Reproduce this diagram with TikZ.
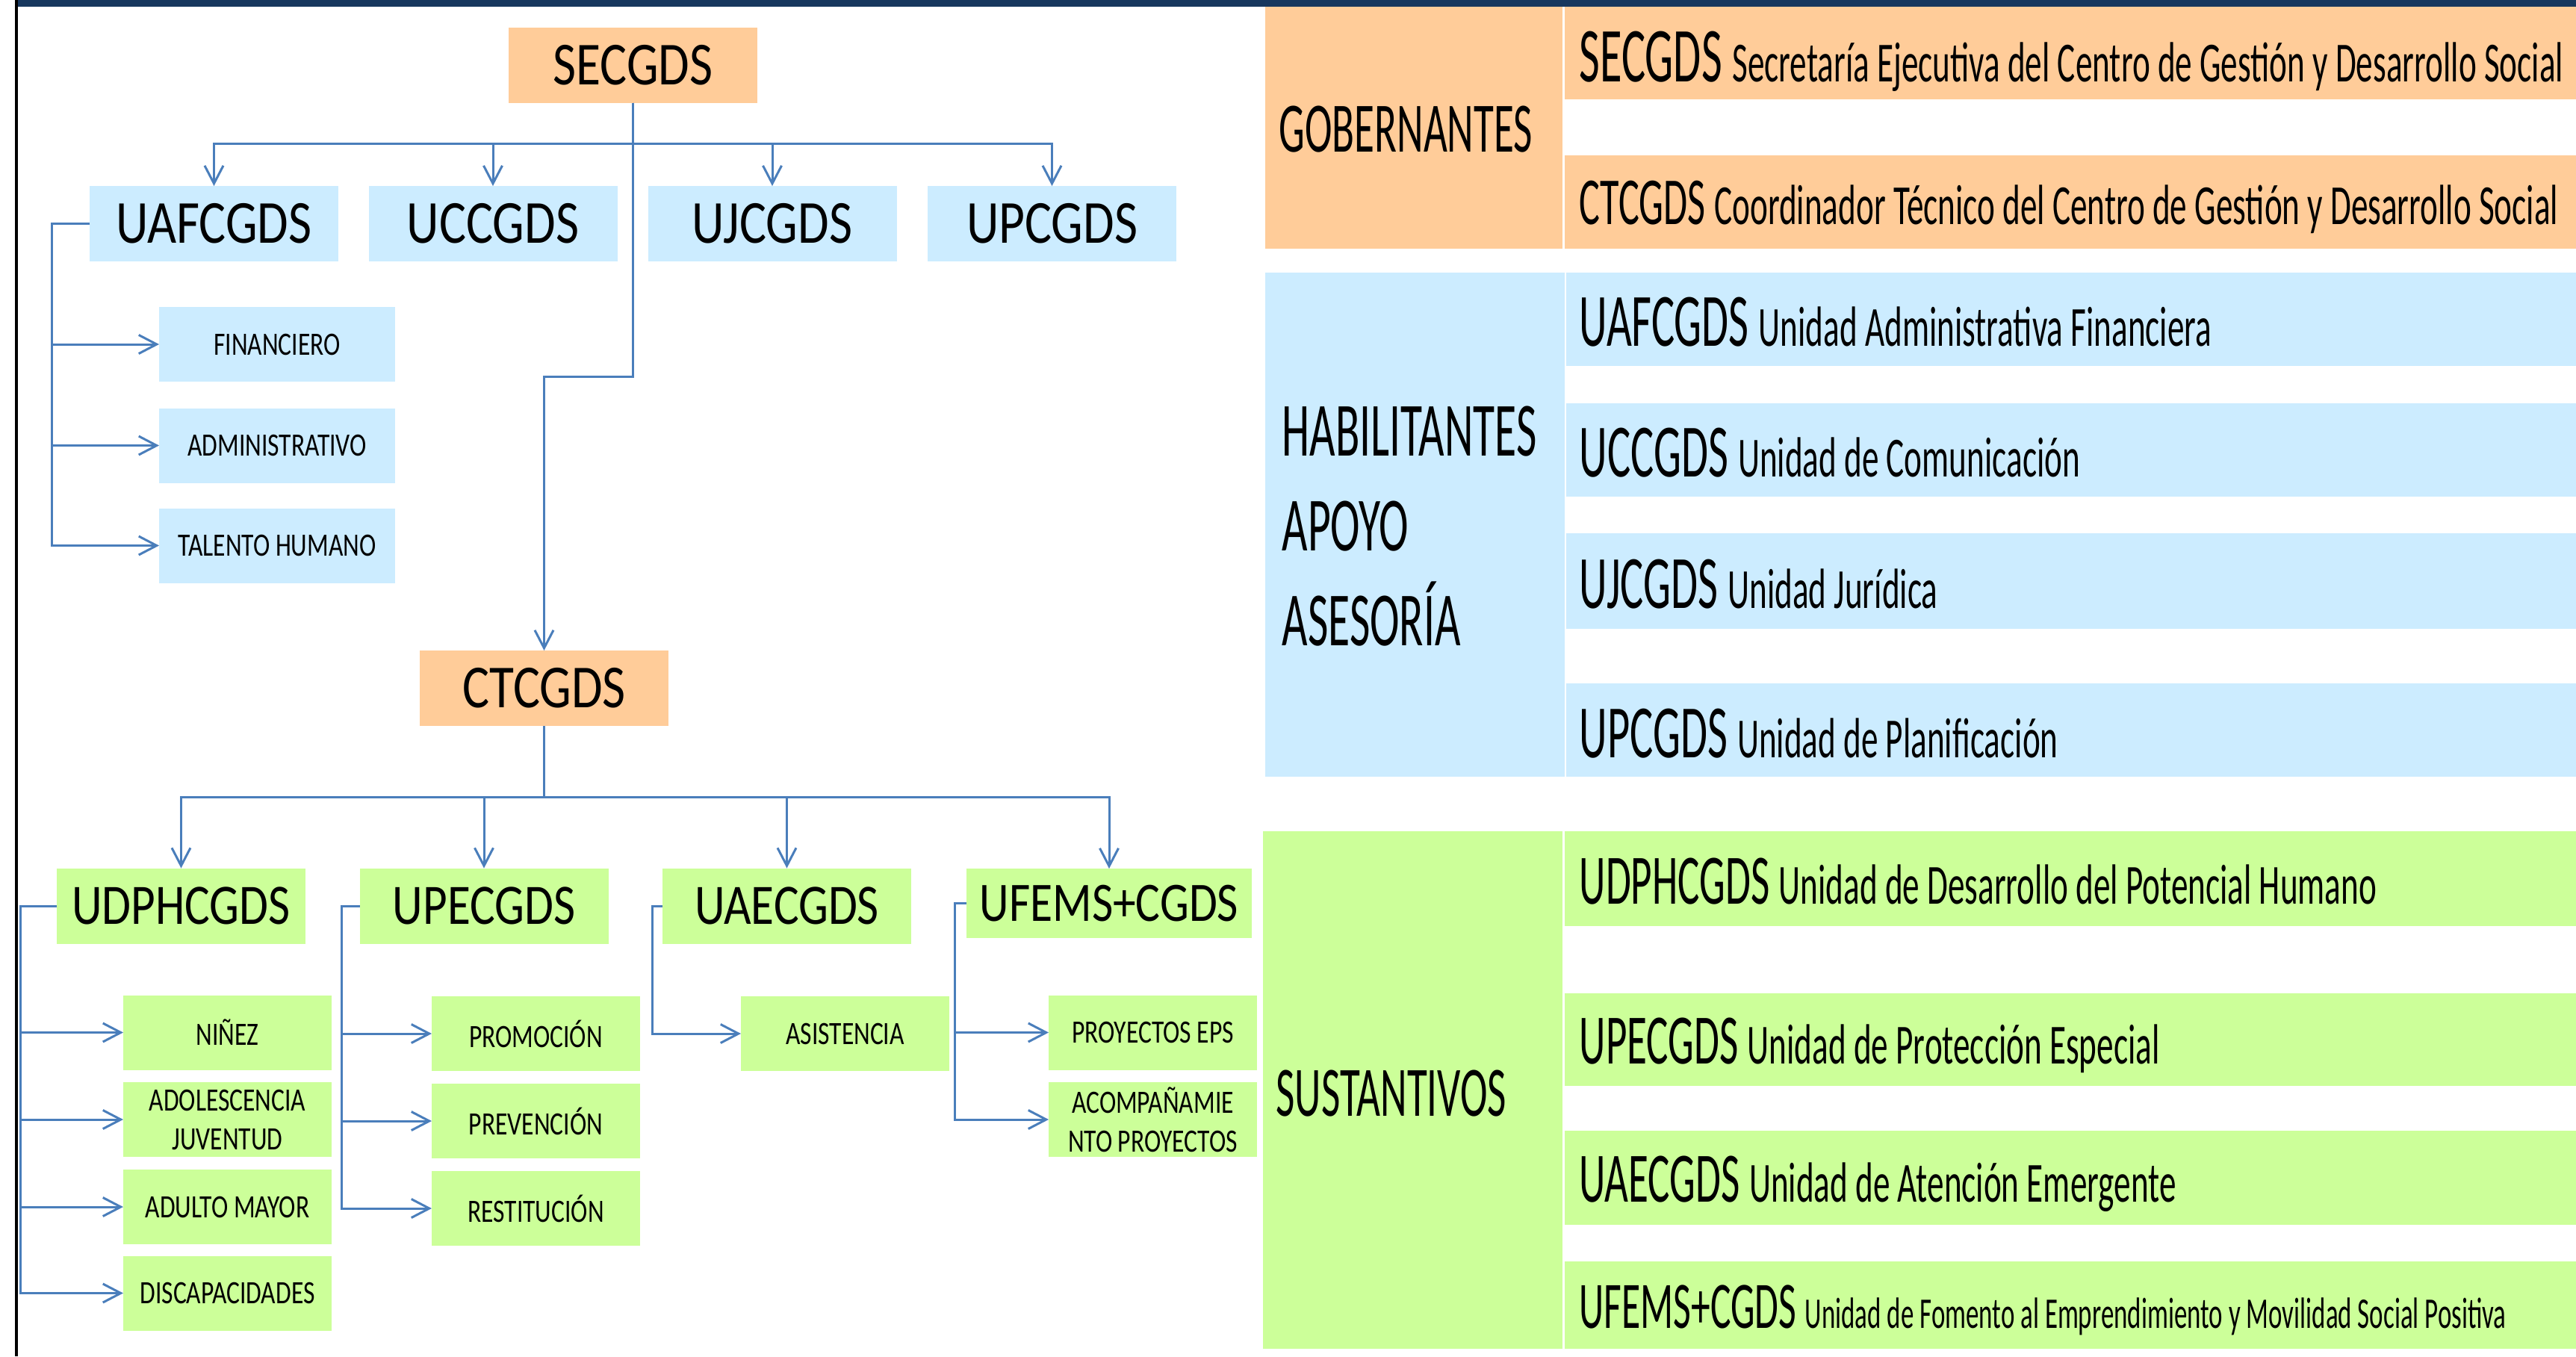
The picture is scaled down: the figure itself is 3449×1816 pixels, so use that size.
\documentclass[tikz,border=0pt]{standalone}
\usepackage{fontspec}
\setmainfont{Carlito}
\newfontfamily\chartfont{Carlito}[FakeStretch=0.825]
\newfontfamily\smallfont{Carlito}[FakeStretch=0.77]
\newfontfamily\tabfont{Carlito}[FakeStretch=0.58]
\newfontfamily\descfont{Carlito}[FakeStretch=0.595]
\usetikzlibrary{arrows.meta}
\definecolor{peach}{HTML}{FFCC99}
\definecolor{skyb}{HTML}{CCECFF}
\definecolor{lime}{HTML}{CCFF99}
\definecolor{connc}{HTML}{4A7EBB}
\definecolor{navy}{HTML}{17375E}
\newcommand{\bigsz}{\fontsize{23.3pt}{28pt}\selectfont}
\newcommand{\grsz}{\fontsize{21.8pt}{26pt}\selectfont}
\newcommand{\smsz}{\fontsize{12.4pt}{14.8pt}\selectfont}
\newcommand{\dsc}{\descfont\fontsize{21.6pt}{26pt}\selectfont}
\begin{document}
\begin{tikzpicture}[x=0.1mm,y=-0.1mm,
  box/.style={inner sep=0pt,outer sep=0pt,align=center},
  bigbox/.style={box,minimum width=33.3mm,minimum height=10.1mm,font=\chartfont\bigsz},
  greenbig/.style={bigbox,fill=lime,font=\chartfont\grsz},
  smallbox/.style={box,minimum width=27.9mm,minimum height=10mm,font=\smallfont\smsz},
  wsmall/.style={smallbox,minimum width=31.6mm},
  link/.style={draw=connc,line width=0.3mm},
  arr/.style={link,-{Straight Barb[length=2.4mm,width=2.5mm]}},
  cat/.style={inner sep=0pt,anchor=base west,font=\tabfont\fontsize{27pt}{32pt}\selectfont},
  bigcat/.style={cat,font=\tabfont\fontsize{29.2pt}{34pt}\selectfont},
  row/.style={inner sep=0pt,anchor=base west,font=\tabfont\fontsize{28.7pt}{34pt}\selectfont}
]
\useasboundingbox (0,0) rectangle (3449,1816);
% frame
\fill[navy] (22,0) rectangle (3449,9);
\fill[black] (20,0) rectangle (24,1816);

% ---------- chart ----------
\node[bigbox,fill=peach] (sec) at (847.5,87) {SECGDS};
\node[bigbox,fill=skyb] (uaf) at (286.5,299.5) {UAFCGDS};
\node[bigbox,fill=skyb] (ucc) at (660,299.5) {UCCGDS};
\node[bigbox,fill=skyb] (ujc) at (1034,299.5) {UJCGDS};
\node[bigbox,fill=skyb] (upc) at (1408.5,299.5) {UPCGDS};
\node[wsmall,fill=skyb] (fin) at (371,461) {FINANCIERO};
\node[wsmall,fill=skyb] (adm) at (371,596.5) {ADMINISTRATIVO};
\node[wsmall,fill=skyb] (tal) at (371,730.5) {TALENTO HUMANO};
\node[bigbox,fill=peach] (ct) at (728.5,921.5) {CTCGDS};
\node[greenbig] (udph) at (242.5,1213) {UDPHCGDS};
\node[greenbig] (upe) at (648,1213) {UPECGDS};
\node[greenbig] (uae) at (1053.5,1213) {UAECGDS};
\node[greenbig,minimum width=38.2mm,minimum height=9.3mm,font=\chartfont\fontsize{21.2pt}{25pt}\selectfont] (ufe) at (1485,1209.5) {UFEMS+CGDS};
\node[smallbox,fill=lime] (nin) at (304.5,1382.5) {NIÑEZ};
\node[smallbox,fill=lime] (ado) at (304.5,1499) {ADOLESCENCIA\\JUVENTUD};
\node[smallbox,fill=lime] (adu) at (304.5,1616) {ADULTO MAYOR};
\node[smallbox,fill=lime] (dis) at (304.5,1731.5) {DISCAPACIDADES};
\node[smallbox,fill=lime] (pro) at (717.5,1384) {PROMOCIÓN};
\node[smallbox,fill=lime] (pre) at (717.5,1501) {PREVENCIÓN};
\node[smallbox,fill=lime] (res) at (717.5,1618) {RESTITUCIÓN};
\node[smallbox,fill=lime] (asi) at (1131.5,1384) {ASISTENCIA};
\node[smallbox,fill=lime] (pep) at (1543.5,1382.5) {PROYECTOS EPS};
\node[smallbox,fill=lime] (aco) at (1543.5,1499) {ACOMPAÑAMIE\\NTO PROYECTOS};

% connectors from SECGDS
\foreach \t in {uaf,ucc,ujc,upc}
  \draw[arr] (sec.south) -- ++(0,55) -| (\t.north);
\draw[arr] (sec.south) -- ++(0,367) -| (ct.north);
% UAFCGDS bracket
\foreach \t in {fin,adm,tal}
  \draw[arr] (uaf.west) -- ++(-51,0) |- (\t.west);
% connectors from CTCGDS
\foreach \t in {udph,upe,uae,ufe}
  \draw[arr] (ct.south) -- ++(0,95) -| (\t.north);
% green brackets
\foreach \t in {nin,ado,adu,dis}
  \draw[arr] (udph.west) -- ++(-49,0) |- (\t.west);
\foreach \t in {pro,pre,res}
  \draw[arr] (upe.west) -- ++(-24,0) |- (\t.west);
\draw[arr] (uae.west) -- ++(-14,0) |- (asi.west);
\foreach \t in {pep,aco}
  \draw[arr] (ufe.west) -- ++(-16,0) |- (\t.west);

% ---------- table ----------
\fill[peach] (1694,9) rectangle (2092,333);
\fill[peach] (2095,9) rectangle (3449,133);
\fill[peach] (2095,208) rectangle (3449,333);
\fill[skyb] (1694,365) rectangle (2095,1040);
\fill[skyb] (2097,365) rectangle (3449,490);
\fill[skyb] (2097,540) rectangle (3449,665);
\fill[skyb] (2097,714) rectangle (3449,842);
\fill[skyb] (2097,915) rectangle (3449,1040);
\fill[lime] (1691,1113) rectangle (2092,1806);
\fill[lime] (2095,1113) rectangle (3449,1240);
\fill[lime] (2095,1330) rectangle (3449,1454);
\fill[lime] (2095,1514) rectangle (3449,1640);
\fill[lime] (2095,1689) rectangle (3449,1806);

\node[cat] (gob) at (1712,203) {GOBERNANTES};
\node[bigcat] (hab) at (1716,610) {HABILITANTES};
\node[bigcat] (apo) at (1716,737) {APOYO};
\node[bigcat] (ase) at (1716,864) {ASESORÍA};
\node[cat] (sus) at (1708,1494) {SUSTANTIVOS};

\node[row,font=\tabfont\fontsize{29.6pt}{34pt}\selectfont] (r1) at (2114,109) {SECGDS {\dsc Secretaría Ejecutiva del Centro de Gestión y Desarrollo Social}};
\node[row,font=\tabfont\fontsize{25.6pt}{30pt}\selectfont] (r2) at (2114,300) {CTCGDS {\dsc Coordinador Técnico del Centro de Gestión y Desarrollo Social}};
\node[row] (r3) at (2114,463) {UAFCGDS {\dsc Unidad Administrativa Financiera}};
\node[row] (r4) at (2114,638) {UCCGDS {\dsc Unidad de Comunicación}};
\node[row] (r5) at (2114,814) {UJCGDS {\dsc Unidad Jurídica}};
\node[row] (r6) at (2114,1014) {UPCGDS {\dsc Unidad de Planificación}};
\node[row,font=\tabfont\fontsize{27pt}{32pt}\selectfont] (r7) at (2114,1210) {UDPHCGDS {\dsc Unidad de Desarrollo del Potencial Humano}};
\node[row,font=\tabfont\fontsize{27pt}{32pt}\selectfont] (r8) at (2114,1424) {UPECGDS {\dsc Unidad de Protección Especial}};
\node[row,font=\tabfont\fontsize{27pt}{32pt}\selectfont] (r9) at (2114,1609) {UAECGDS {\dsc Unidad de Atención Emergente}};
\node[row,font=\tabfont\fontsize{25.3pt}{30pt}\selectfont] (r10) at (2114,1778) {UFEMS+CGDS {\descfont\fontsize{16.7pt}{20pt}\selectfont Unidad de Fomento al Emprendimiento y Movilidad Social Positiva}};
\end{tikzpicture}
\end{document}
